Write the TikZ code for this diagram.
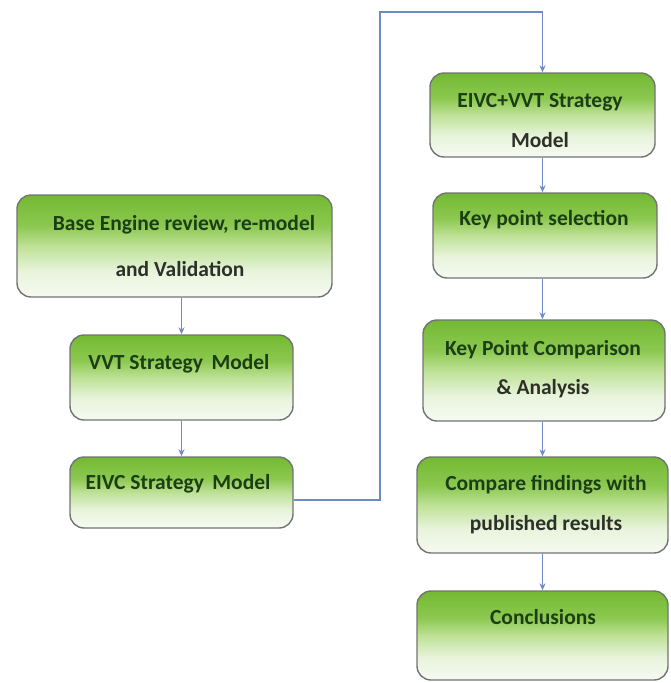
\documentclass[tikz,border=0pt]{standalone}
\usepackage{fontspec}
\setmainfont{Carlito}
\usetikzlibrary{arrows.meta}
\definecolor{gA}{RGB}{246,250,242}
\definecolor{gB}{RGB}{232,244,220}
\definecolor{gC}{RGB}{190,225,150}
\definecolor{gD}{RGB}{140,200,80}
\definecolor{gE}{RGB}{115,185,50}
\definecolor{boxline}{RGB}{115,115,115}
\definecolor{conn}{RGB}{110,140,195}
\definecolor{txtgreen}{RGB}{28,62,20}
\definecolor{txtgray}{RGB}{45,48,40}
\pgfdeclareverticalshading{greenfade}{100bp}{color(0bp)=(gA); color(25bp)=(gA); color(37.5bp)=(gB); color(50bp)=(gC); color(60bp)=(gD); color(75bp)=(gE); color(100bp)=(gE)}
\tikzset{
  stepbox/.style={draw=boxline, line width=1.4pt, rounded corners=14pt, shading=greenfade, inner sep=0pt},
  lbl/.style={font=\fontsize{21.5}{24}\selectfont\bfseries, anchor=mid, inner sep=0pt, yshift=-5pt},
  l1/.style={lbl, text=txtgreen},
  l2/.style={lbl, text=txtgray},
  conn/.style={draw=conn, line width=1.1pt},
  arr/.style={conn, -{Stealth[length=7pt,width=6pt]}}
}
\begin{document}
\begin{tikzpicture}[x=1pt,y=-1pt]
\useasboundingbox (0,0) rectangle (670,683);
% boxes
\node[stepbox, minimum width=315pt, minimum height=102pt] (b1) at (174.5,246) {};
\node[stepbox, minimum width=223pt, minimum height=85pt] (b2) at (181.5,377.5) {};
\node[stepbox, minimum width=223pt, minimum height=71pt] (b3) at (181.5,492.5) {};
\node[stepbox, minimum width=225pt, minimum height=84pt] (b4) at (542.5,115) {};
\node[stepbox, minimum width=224pt, minimum height=85pt] (b5) at (545,235.5) {};
\node[stepbox, minimum width=242pt, minimum height=101pt] (b6) at (544,370.5) {};
\node[stepbox, minimum width=251pt, minimum height=96pt] (b7) at (542.5,505) {};
\node[stepbox, minimum width=251pt, minimum height=89pt] (b8) at (542.5,635.5) {};
% labels
\node[l1] (t1a) at (184,223) {Base Engine review, re-model};
\node[l2] (t1b) at (180,269) {and Validation};
\node[l1] (t2) at (179,362) {VVT Strategy\, Model};
\node[l1] (t3) at (178,482) {EIVC Strategy\, Model};
\node[l1] (t4a) at (540,100) {EIVC+VVT Strategy};
\node[l2] (t4b) at (540,140) {Model};
\node[l1] (t5) at (544,218) {Key point selection};
\node[l1] (t6a) at (543,348) {Key Point Comparison};
\node[l2] (t6b) at (543,387) {\& Analysis};
\node[l1] (t7a) at (546,483) {Compare findings with};
\node[l2] (t7b) at (546,523) {published results};
\node[l1] (t8) at (543,617) {Conclusions};
% connectors
\draw[arr] (b2.north |- b1.south) -- (b2.north);
\draw[arr] (b2.south) -- (b3.north);
\coordinate (c0) at ([yshift=-7.5pt]b3.east);
\coordinate (c1) at (380,500);
\coordinate (c2) at (380,12);
\coordinate (c3) at (542.5,12);
\draw[arr] (c0) -- (c1) -- (c2) -- (c3) -- (b4.north);
\draw[arr] (b4.south) -- (b4.south |- b5.north);
\draw[arr] (b4.south |- b5.south) -- (b4.south |- b6.north);
\draw[arr] (b4.south |- b6.south) -- (b4.south |- b7.north);
\draw[arr] (b4.south |- b7.south) -- (b4.south |- b8.north);
\end{tikzpicture}
\end{document}
